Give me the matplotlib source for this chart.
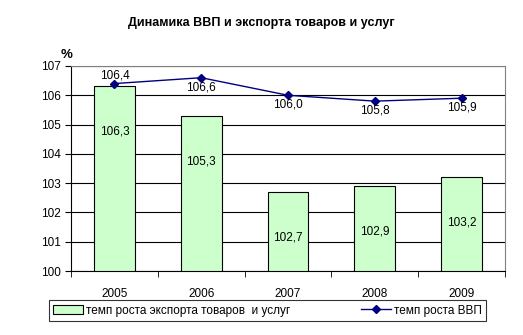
import matplotlib
matplotlib.use('Agg')
from matplotlib import pyplot as plt
import numpy as np

plt.rcParams['font.family'] = ['Liberation Sans', 'DejaVu Sans']

years = ['2005', '2006', '2007', '2008', '2009']
export_growth = [106.3, 105.3, 102.7, 102.9, 103.2]
gdp_growth = [106.4, 106.6, 106.0, 105.8, 105.9]


def fmt(v):
    return f'{v:.1f}'.replace('.', ',')


fig = plt.figure(figsize=(5.23, 3.35), dpi=100)
ax = fig.add_axes([0.1358, 0.191, 0.8298, 0.612])

x = np.arange(len(years))
bars = ax.bar(x, [v - 100 for v in export_growth], bottom=100, width=0.47,
              color='#ccffcc', edgecolor='black', linewidth=0.8, zorder=3,
              label='темп роста экспорта товаров  и услуг')
line, = ax.plot(x, gdp_growth, color='#000080', marker='D', markersize=4.5,
                linewidth=1, zorder=4, label='темп роста ВВП')

# bar values sit inside the bars, line values just off the markers
for xi, v in zip(x, export_growth):
    ax.text(xi, v - 1.55, fmt(v), ha='center', va='center', fontsize=8.5, zorder=5)
for i, (xi, v) in enumerate(zip(x, gdp_growth)):
    if i == 0:
        ax.text(xi, v + 0.28, fmt(v), ha='center', va='center', fontsize=8.5, zorder=5)
    else:
        ax.text(xi, v - 0.33, fmt(v), ha='center', va='center', fontsize=8.5, zorder=5)

ax.set_ylim(100, 107)
ax.set_xlim(-0.5, len(years) - 0.5)
ax.set_yticks(range(100, 108))
ax.yaxis.grid(True, color='black', linewidth=0.8, zorder=0)
ax.set_xticks(x)
ax.set_xticklabels(years)
ax.set_xticks(np.arange(-0.5, len(years)), minor=True)
ax.tick_params(axis='x', which='major', length=0, pad=12, labelsize=8.5)
ax.tick_params(axis='x', which='minor', length=4, direction='out', color='black')
ax.tick_params(axis='y', length=4, direction='out', labelsize=8.5, color='black')

for side in ['top', 'right']:
    ax.spines[side].set_color('#808080')
for side in ['left', 'bottom']:
    ax.spines[side].set_color('black')

fig.text(0.5, 0.93, 'Динамика ВВП и экспорта товаров и услуг',
         ha='center', va='center', fontsize=9, fontweight='bold')
fig.text(0.128, 0.835, '%', ha='center', va='center', fontsize=9.5, fontweight='bold')

leg = fig.legend(handles=[bars, line], loc='center', bbox_to_anchor=(0.512, 0.073),
                 ncol=2, fontsize=8.5, frameon=True, fancybox=False, edgecolor='black',
                 columnspacing=6.0, handlelength=2.5, handletextpad=0.3,
                 borderpad=0.35)
leg.get_frame().set_linewidth(0.8)

fig.savefig('out.png', dpi=100)
